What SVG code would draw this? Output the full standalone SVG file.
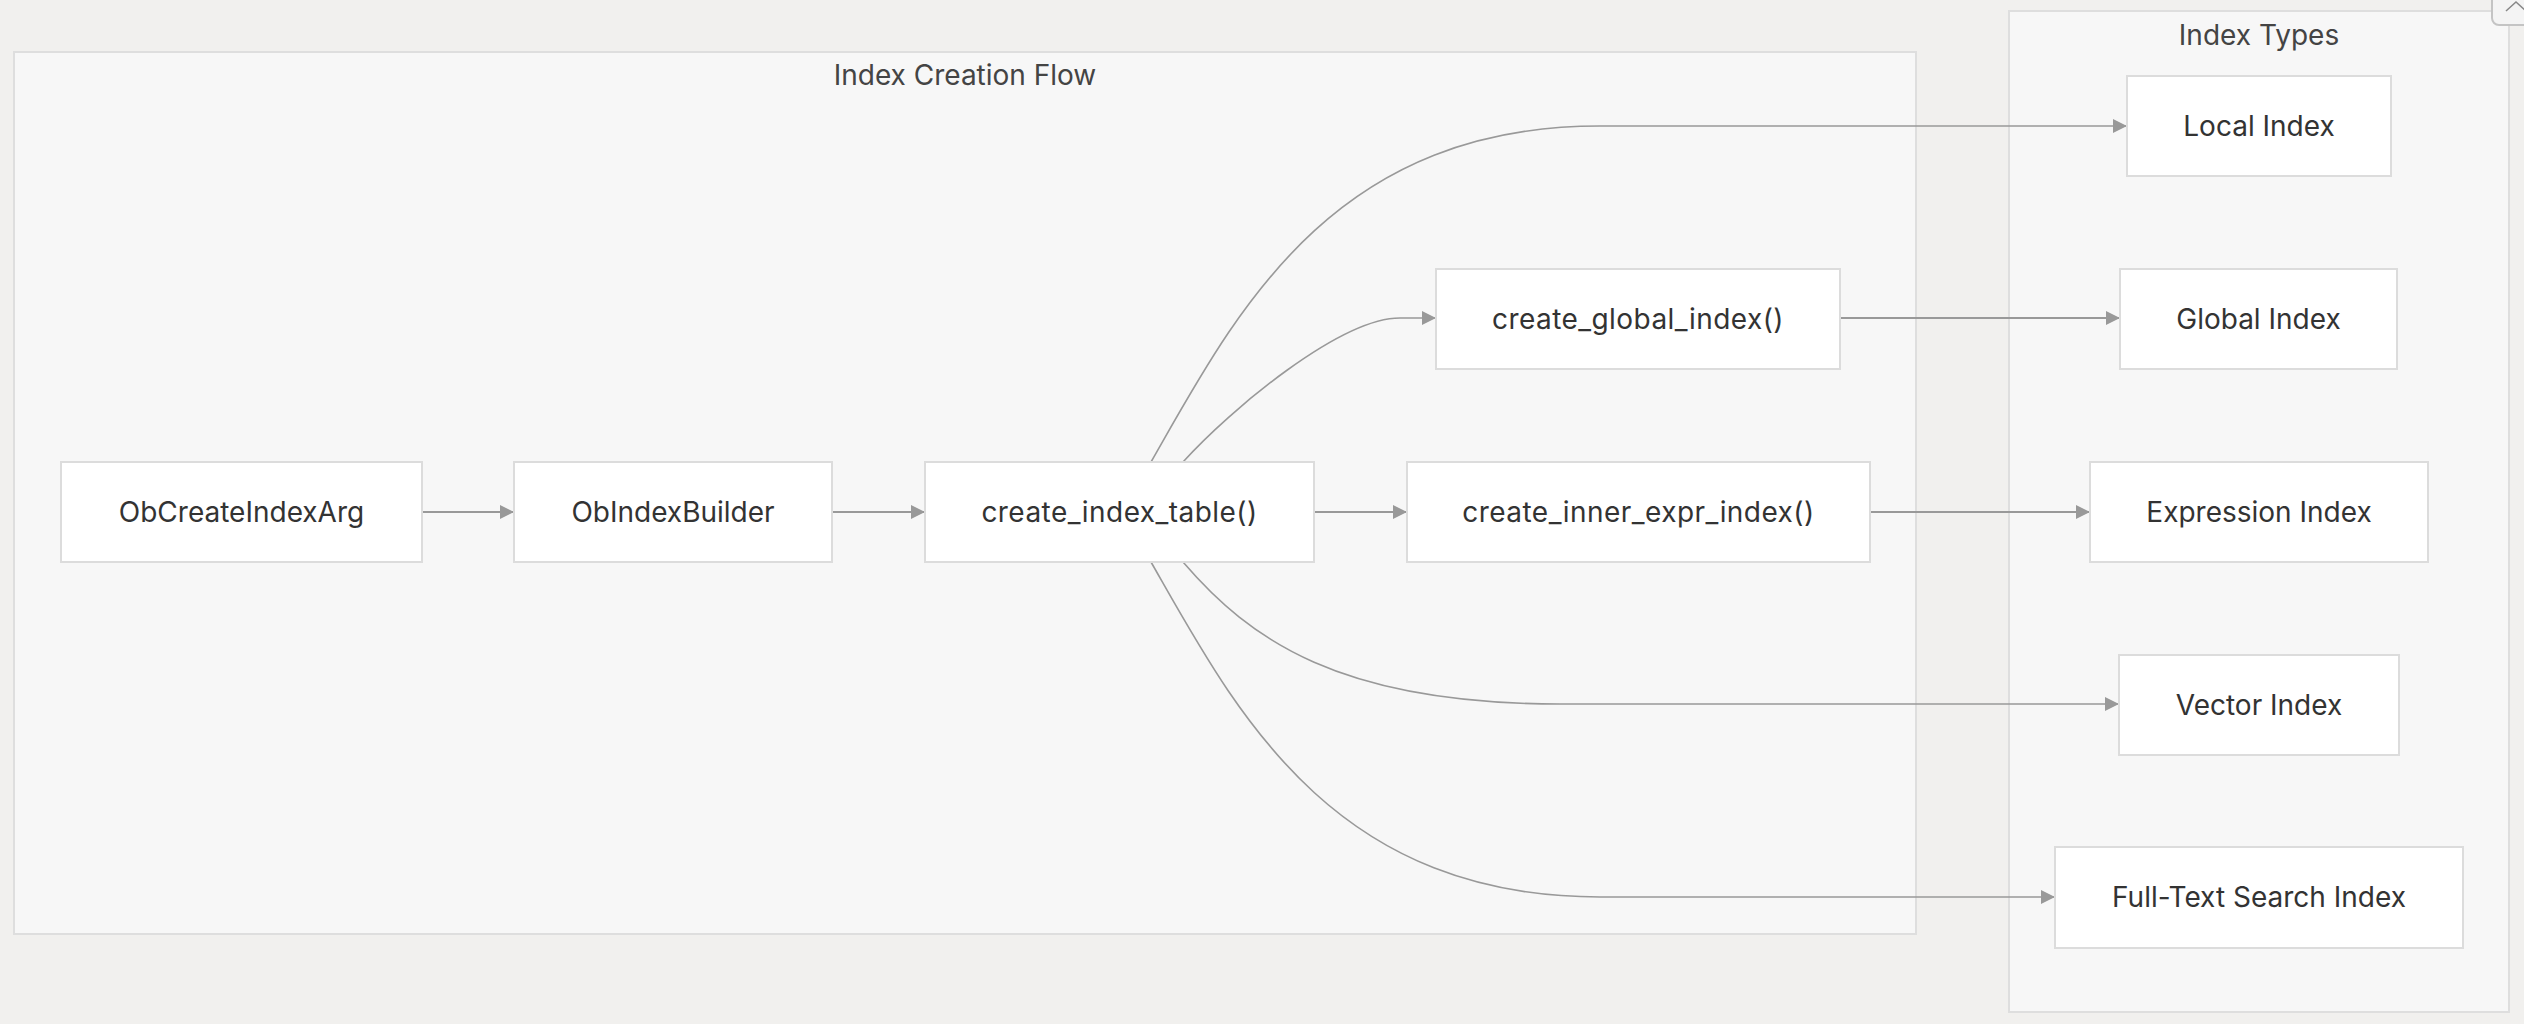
<svg xmlns="http://www.w3.org/2000/svg" width="2524" height="1024" viewBox="0 0 2524 1024">
<defs>
<style>
.bg{fill:#f1f0ee}
.cluster{fill:#f7f7f7;stroke:#dedede;stroke-width:2}
.ctitle{font-family:Inter,"Liberation Sans",sans-serif;font-size:28px;fill:#444;text-anchor:middle}
.node rect{fill:#ffffff;stroke:#dcdcdc;stroke-width:2}
.node text{font-family:Inter,"Liberation Sans",sans-serif;font-size:28px;fill:#333;text-anchor:middle}
.node text.fn{letter-spacing:0.45px}
.edge{fill:none;stroke:#999;stroke-width:2;marker-end:url(#arrow)}
.curve{stroke-width:1.6}
</style>
<marker id="arrow" markerUnits="userSpaceOnUse" markerWidth="14" markerHeight="14" refX="14" refY="7" orient="auto">
<path d="M0,0 L14,7 L0,14 z" fill="#999"/>
</marker>
</defs>
<rect class="bg" x="0" y="0" width="2524" height="1024"/>

<g id="cluster-index-creation-flow">
<rect class="cluster" x="14" y="52" width="1902" height="882"/>
<text class="ctitle" x="965" y="85">Index Creation Flow</text>
</g>
<g id="cluster-index-types">
<rect class="cluster" x="2009" y="11" width="500" height="1001"/>
<text class="ctitle" x="2259" y="45">Index Types</text>
</g>

<g id="ui-button">
<rect x="2492" y="-12" width="44" height="37" rx="7" fill="#f4f4f4" stroke="#c4c4c4" stroke-width="2"/>
<polyline points="2506,11 2516,2 2526,11" fill="none" stroke="#888" stroke-width="1.5"/>
</g>

<g id="connectors">
<path class="edge" d="M422,512 L514,512"/>
<path class="edge" d="M832,512 L925,512"/>
<path class="edge" d="M1314,512 L1407,512"/>
<path class="edge curve" d="M1151,462 C1235,315 1330,126 1600,126 L2127,126"/>
<path class="edge curve" d="M1183,462 C1230,410 1340,318 1400,318 L1436,318"/>
<path class="edge curve" d="M1183,562 C1250,640 1340,704 1560,704 L2119,704"/>
<path class="edge curve" d="M1151,562 C1235,709 1330,897 1600,897 L2055,897"/>
<path class="edge" d="M1840,318 L2120,318"/>
<path class="edge" d="M1870,512 L2090,512"/>
</g>

<g id="node-ObCreateIndexArg" class="node">
<rect x="61" y="462" width="361" height="100"/>
<text x="241.5" y="522">ObCreateIndexArg</text>
</g>
<g id="node-ObIndexBuilder" class="node">
<rect x="514" y="462" width="318" height="100"/>
<text x="673" y="522">ObIndexBuilder</text>
</g>
<g id="node-create_index_table" class="node">
<rect x="925" y="462" width="389" height="100"/>
<text class="fn" x="1119.5" y="522">create_index_table()</text>
</g>
<g id="node-create_inner_expr_index" class="node">
<rect x="1407" y="462" width="463" height="100"/>
<text class="fn" x="1638.5" y="522">create_inner_expr_index()</text>
</g>
<g id="node-create_global_index" class="node">
<rect x="1436" y="269" width="404" height="100"/>
<text class="fn" x="1638" y="329">create_global_index()</text>
</g>
<g id="node-local-index" class="node">
<rect x="2127" y="76" width="264" height="100"/>
<text x="2259" y="136">Local Index</text>
</g>
<g id="node-global-index" class="node">
<rect x="2120" y="269" width="277" height="100"/>
<text x="2258.5" y="329">Global Index</text>
</g>
<g id="node-expression-index" class="node">
<rect x="2090" y="462" width="338" height="100"/>
<text x="2259" y="522">Expression Index</text>
</g>
<g id="node-vector-index" class="node">
<rect x="2119" y="655" width="280" height="100"/>
<text x="2259" y="715">Vector Index</text>
</g>
<g id="node-fulltext-index" class="node">
<rect x="2055" y="847" width="408" height="101"/>
<text x="2259" y="907">Full-Text Search Index</text>
</g>
</svg>
